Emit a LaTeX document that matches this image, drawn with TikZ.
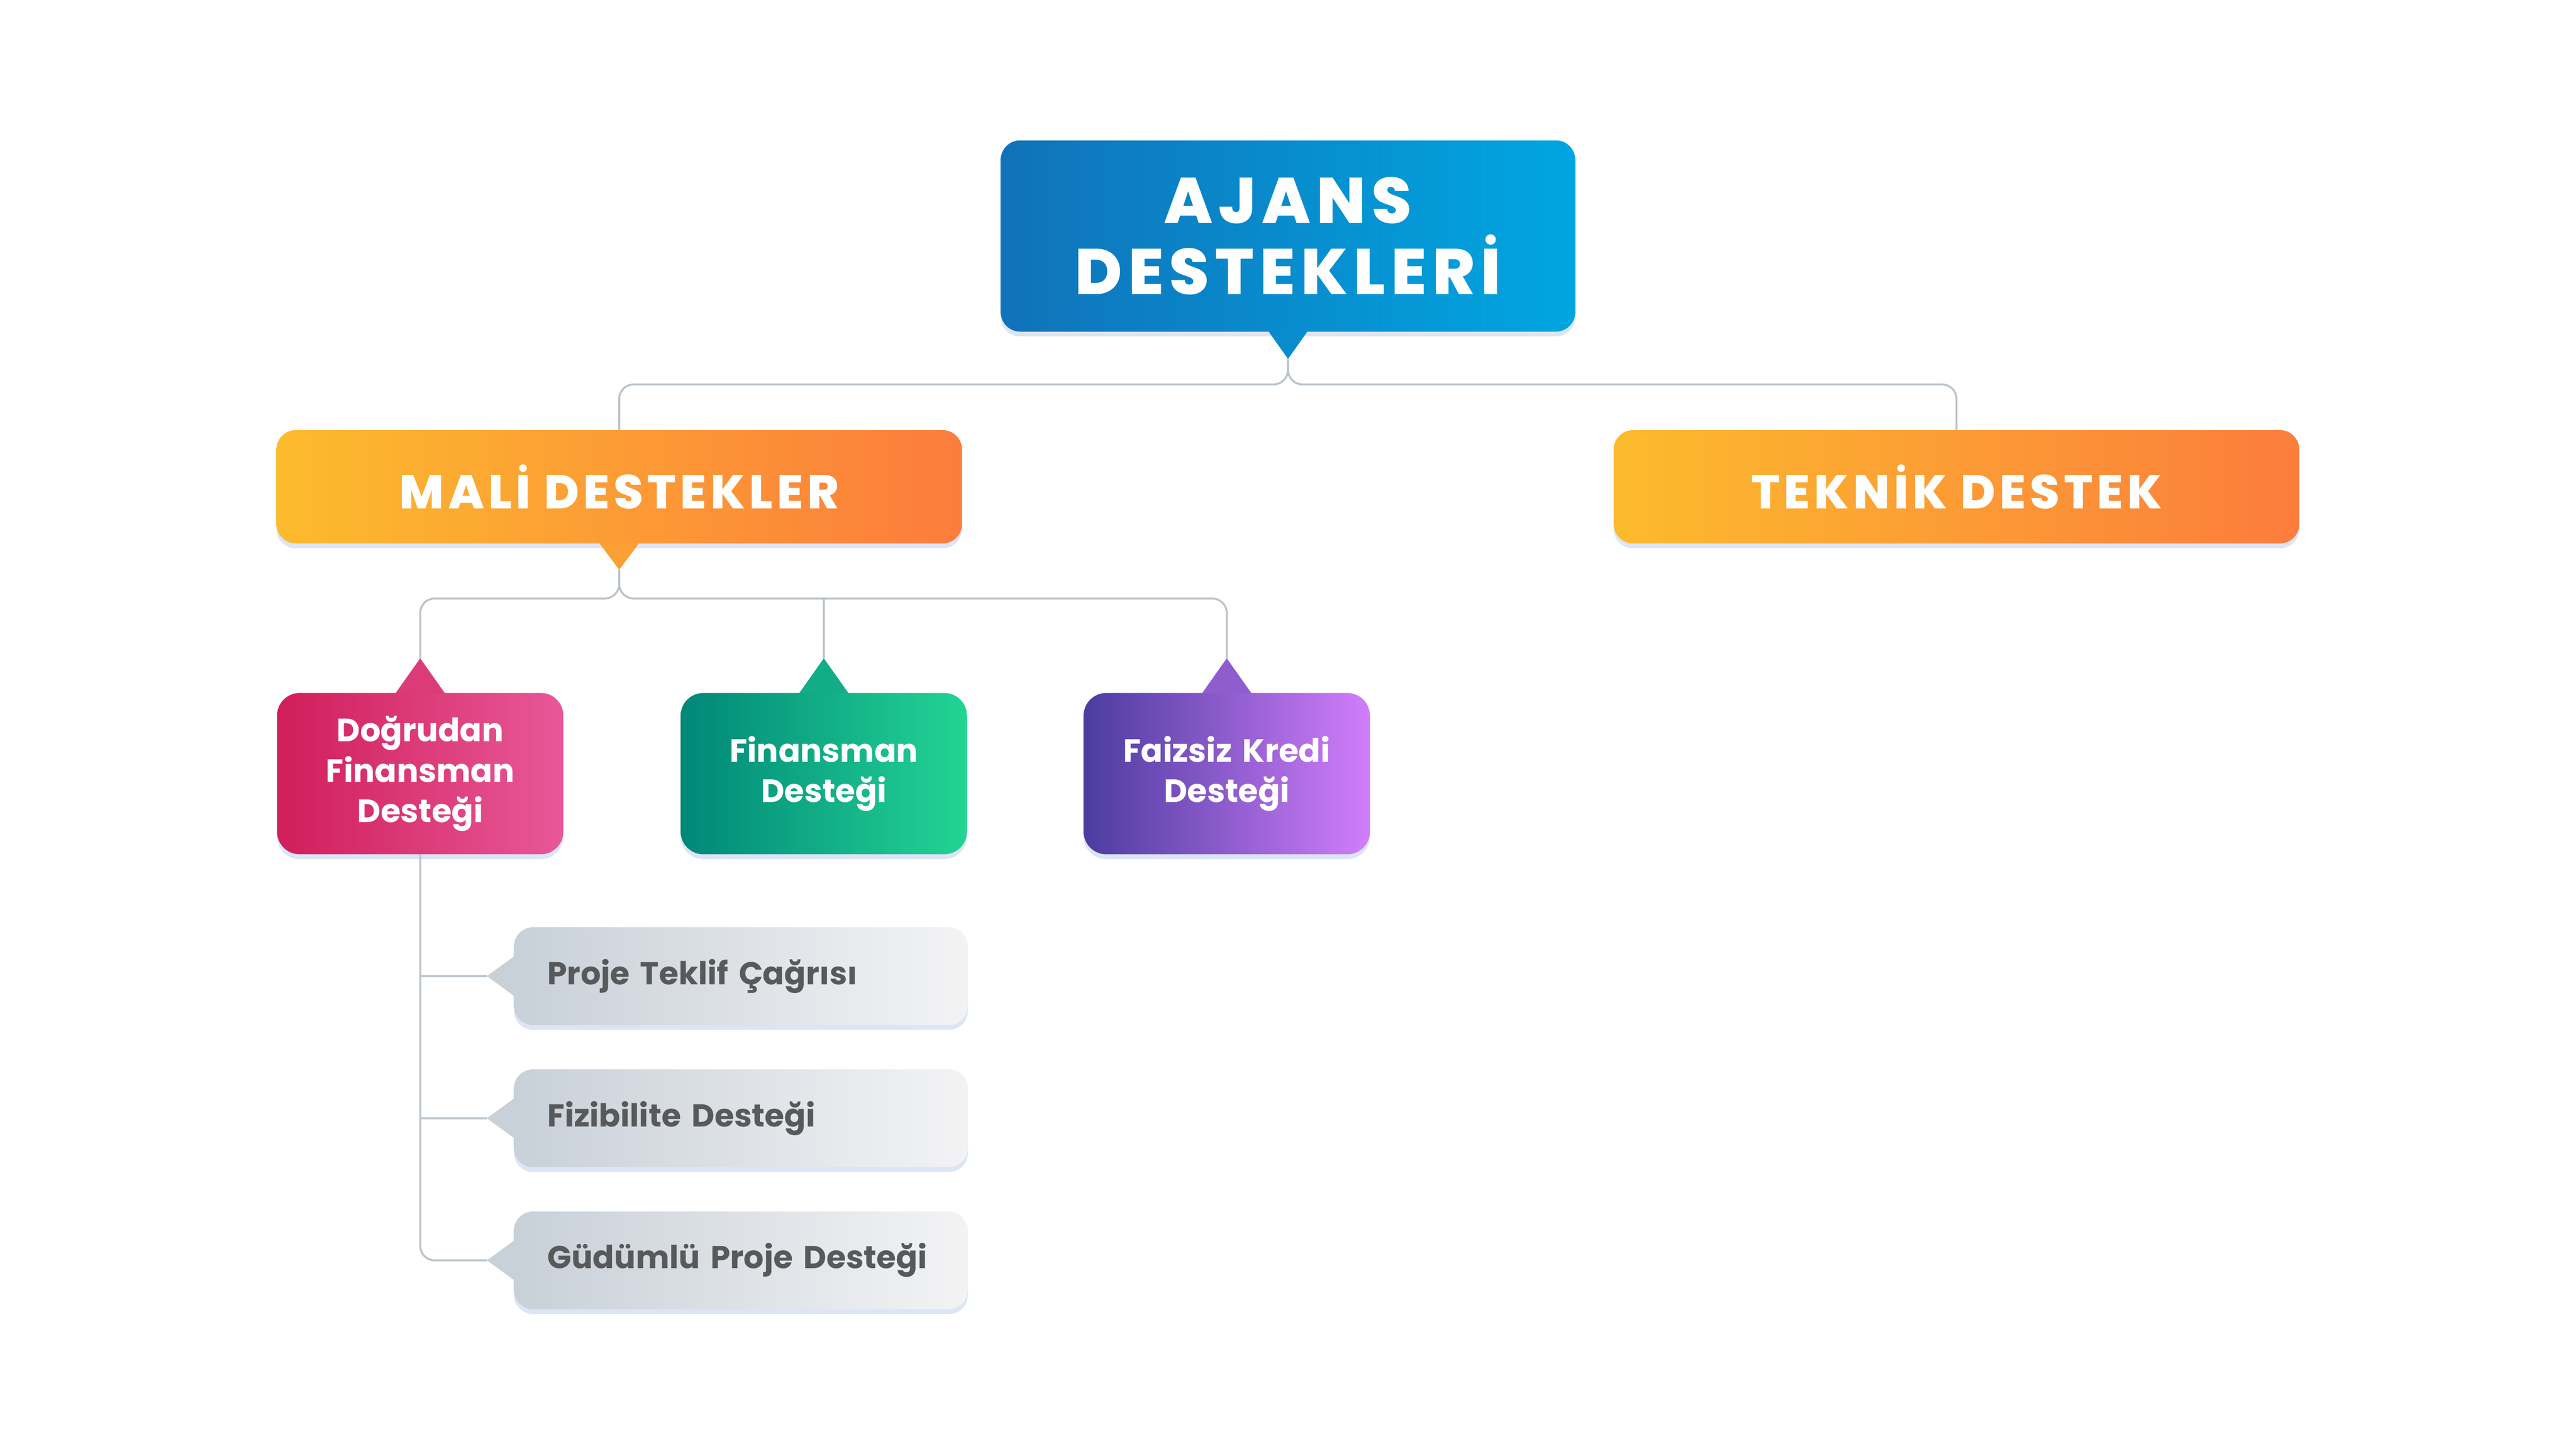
\documentclass[tikz,border=0pt]{standalone}
\usepackage{fontspec}
\setmainfont{Poppins}
\IfFontExistsTF{Poppins ExtraBold}
  {\newfontfamily\bannerfont{Poppins}[LetterSpace=9, BoldFont={Poppins ExtraBold}]}
  {\newfontfamily\bannerfont{Poppins}[LetterSpace=9]}
\usetikzlibrary{positioning,calc,shadows}
\definecolor{blueL}{HTML}{1072B9}
\definecolor{blueR}{HTML}{00A6E1}
\definecolor{orangeL}{HTML}{FCBB2D}
\definecolor{orangeR}{HTML}{FC7C3C}
\definecolor{pinkL}{HTML}{D01E5A}
\definecolor{pinkR}{HTML}{E85898}
\definecolor{greenL}{HTML}{008778}
\definecolor{greenR}{HTML}{23D494}
\definecolor{purpleL}{HTML}{4B3CA0}
\definecolor{purpleR}{HTML}{D27DFA}
\definecolor{grayL}{HTML}{C8D0D8}
\definecolor{grayR}{HTML}{F3F3F4}
\definecolor{itemtext}{HTML}{58595B}
\definecolor{linegray}{HTML}{BAC3CA}
\definecolor{shadowblue}{HTML}{C5D3F0}
\tikzset{
        box/.style = {rounded corners=0.6cm, text=white, align=center,
                drop shadow={shadow xshift=0cm, shadow yshift=-0.15cm, fill=shadowblue, opacity=0.6}},
        rootbox/.style = {box, left color=blueL, right color=blueR, minimum width=17.84cm, minimum height=5.94cm,
                font=\bannerfont\bfseries\fontsize{57}{63}\selectfont},
        headbox/.style = {box, left color=orangeL, right color=orangeR, minimum width=21.29cm, minimum height=3.52cm,
                font=\bannerfont\bfseries\fontsize{42}{50}\selectfont},
        subbox/.style = {box, rounded corners=0.7cm, minimum width=8.89cm, minimum height=5.01cm, text width=7.5cm,
                font=\bfseries\fontsize{28.5}{35.6}\selectfont},
        itembox/.style = {box, left color=grayL, right color=grayR, text=itemtext, align=left, minimum width=14.10cm,
                minimum height=3.04cm, text width=12.02cm, inner xsep=1.04cm, font=\bfseries\fontsize{28}{34}\selectfont},
        conn/.style = {draw=linegray, line width=0.06cm, rounded corners=0.45cm}}

\begin{document}
\begin{tikzpicture}
    \useasboundingbox (0,0) rectangle (80,-45);
            \node [rootbox] (root) at (40,-7.33) {AJANS\\DESTEKLERİ};
            \node [headbox] (mali) at (19.23,-15.12) {MALİ DESTEKLER};
            \node [headbox] (teknik) at (60.76,-15.12) {TEKNİK DESTEK};
            \node [subbox, left color=pinkL, right color=pinkR] (dog) at (13.05,-24.03) {Doğrudan\\Finansman\\Desteği};
            \node [subbox, left color=greenL, right color=greenR, right=3.63cm of dog] (fin) {Finansman\\Desteği};
            \node [subbox, left color=purpleL, right color=purpleR, right=3.61cm of fin] (faiz) {Faizsiz Kredi\\Desteği};
            \node [itembox] (g1) at (23.01,-30.32) {Proje Teklif Çağrısı};
            \node [itembox, below=1.36cm of g1] (g2) {Fizibilite Desteği};
            \node [itembox, below=1.36cm of g2] (g3) {Güdümlü Proje Desteği};

            % pointers
            \fill[blueL!50!blueR] ($(root.south)+(-0.61,0.02)$) -- ($(root.south)+(0.61,0.02)$) -- ($(root.south)+(0,-0.84)$) coordinate (roottip) -- cycle;
            \fill[orangeL!55!orangeR] ($(mali.south)+(-0.62,0.02)$) -- ($(mali.south)+(0.62,0.02)$) -- ($(mali.south)+(0,-0.81)$) coordinate (malitip) -- cycle;
            \fill[pinkL!50!pinkR] ($(dog.north)+(-0.77,-0.02)$) -- ($(dog.north)+(0.77,-0.02)$) -- ($(dog.north)+(0,1.07)$) coordinate (dogtip) -- cycle;
            \fill[greenL!50!greenR] ($(fin.north)+(-0.77,-0.02)$) -- ($(fin.north)+(0.77,-0.02)$) -- ($(fin.north)+(0,1.07)$) coordinate (fintip) -- cycle;
            \fill[purpleL!50!purpleR] ($(faiz.north)+(-0.77,-0.02)$) -- ($(faiz.north)+(0.77,-0.02)$) -- ($(faiz.north)+(0,1.07)$) coordinate (faiztip) -- cycle;
            \foreach \g in {g1,g2,g3}
                \fill[grayL] ($(\g.west)+(0.02,0.62)$) -- ($(\g.west)+(0.02,-0.62)$) -- ($(\g.west)+(-0.83,0)$) coordinate (\g tip) -- cycle;

            \coordinate (bus1) at (40,-11.94);
            \coordinate (bus2) at (19.23,-18.59);

            \begin{scope}[conn]
            \draw (roottip) |- (bus1 -| mali.north) -- (mali.north);
            \draw (roottip) |- (bus1 -| teknik.north) -- (teknik.north);
            \draw (malitip) |- (bus2 -| dogtip) -- (dogtip);
            \draw (malitip) |- (bus2 -| faiztip) -- (faiztip);
            \draw (bus2 -| fintip) -- (fintip);
            \draw (dog.south) |- (g3tip);
            \draw (dog.south |- g1tip) -- (g1tip);
            \draw (dog.south |- g2tip) -- (g2tip);
            \end{scope}
    \end{tikzpicture}
\end{document}
